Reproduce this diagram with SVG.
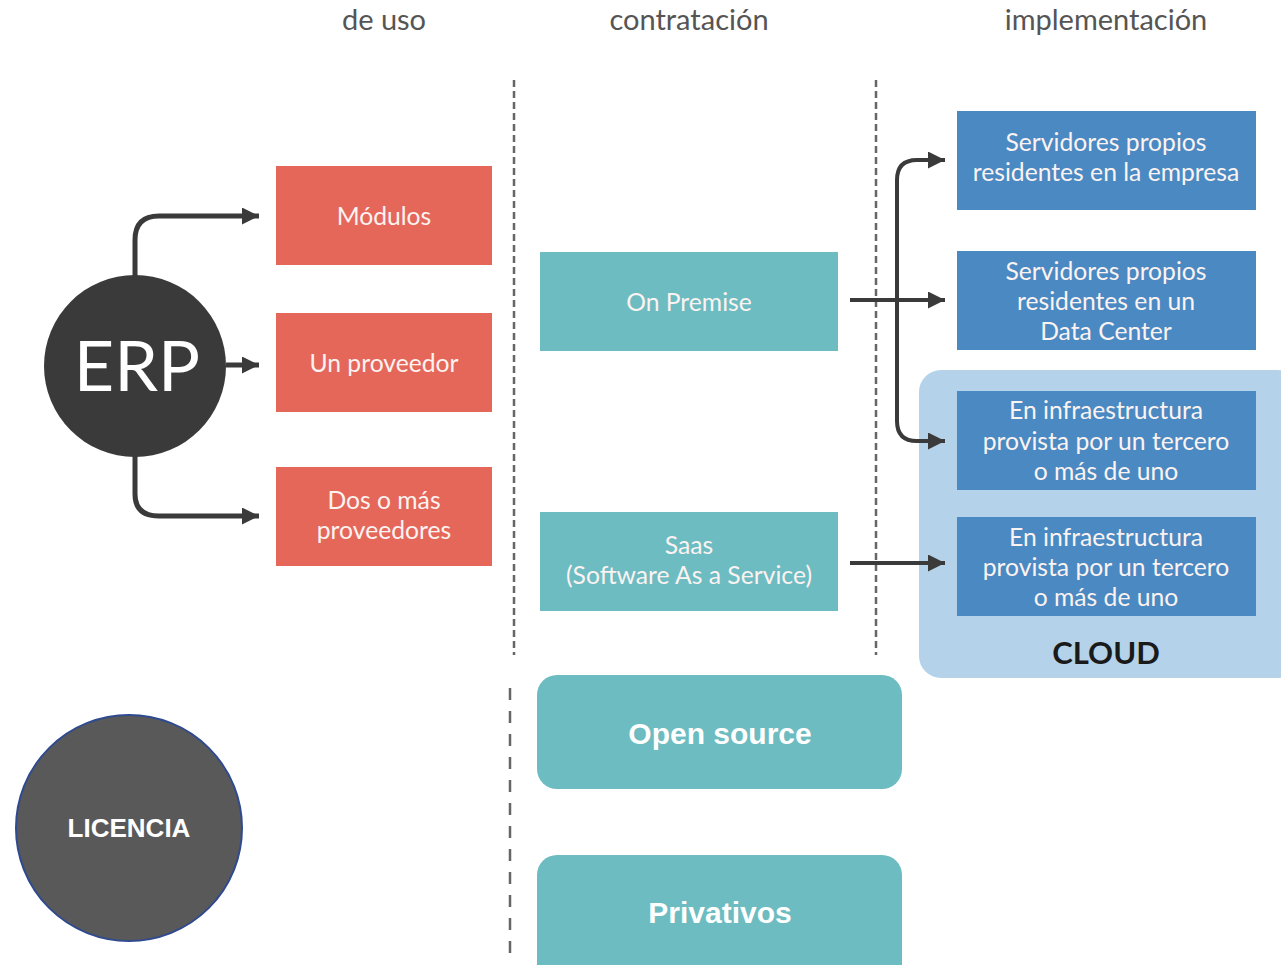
<svg xmlns="http://www.w3.org/2000/svg" width="1281" height="965" viewBox="0 0 1281 965">
<defs>
<style>
.hdr{font-family:Lato,"Open Sans","Liberation Sans",sans-serif;font-size:29px;fill:#555;text-anchor:middle}
.lbl{font-family:Lato,"Open Sans","Liberation Sans",sans-serif;font-size:24.7px;fill:#fbf3f1;text-anchor:middle}
.red{fill:#e5675a}
.teal{fill:#6dbcc1}
.blue{fill:#4b89c2}
.conn{fill:none;stroke:#3a3a3a;stroke-width:5}
.connr{fill:none;stroke:#3a3a3a;stroke-width:4}
.dash{stroke:#666;stroke-width:2.5;stroke-dasharray:7 4}
.bold{font-family:"Liberation Sans",Arial,sans-serif;font-weight:bold;fill:#fff;text-anchor:middle}
</style>
<marker id="ah" markerUnits="userSpaceOnUse" markerWidth="17" markerHeight="17" viewBox="0 0 17 17" refX="17" refY="8.5" orient="auto-start-reverse">
<path d="M0,0 L17,8.5 L0,17 z" fill="#3a3a3a"/>
</marker>
</defs>
<rect width="1281" height="965" fill="#fff"/>
<g id="headers">
<text class="hdr" x="384" y="30">de uso</text>
<text class="hdr" x="689" y="30">contratación</text>
<text class="hdr" x="1106" y="30">implementación</text>
</g>
<g id="dividers">
<line class="dash" x1="514" y1="80" x2="514" y2="655"/>
<line class="dash" x1="876" y1="80" x2="876" y2="655"/>
<line x1="510" y1="688" x2="510" y2="958" stroke="#666" stroke-width="2.5" stroke-dasharray="12 11"/>
</g>
<g id="cloud">
<rect x="919" y="370" width="380" height="308" rx="22" fill="#b4d3ea"/>
<text x="1106" y="664" font-family="Lato,'Open Sans','Liberation Sans',sans-serif" font-weight="bold" font-size="31" fill="#1a1a1a" text-anchor="middle">CLOUD</text>
</g>
<g id="connectors">
<path class="conn" d="M135,276 V240 Q135,216 159,216 H259" marker-end="url(#ah)"/>
<path class="conn" d="M226,365 H259" marker-end="url(#ah)"/>
<path class="conn" d="M135,456 V494 Q135,516 159,516 H259" marker-end="url(#ah)"/>
<path class="connr" d="M945,160 H917 Q897,160 897,180 V421 Q897,441 917,441 H945" marker-start="url(#ah)" marker-end="url(#ah)"/>
<path class="connr" d="M850,300 H945" marker-end="url(#ah)"/>
<path class="connr" d="M850,563 H945" marker-end="url(#ah)"/>
</g>
<g id="erp">
<circle cx="135" cy="366" r="91" fill="#3a3a3a"/>
<text x="137" y="391" font-family="Lato,'Open Sans','Liberation Sans',sans-serif" font-size="70" fill="#fff" text-anchor="middle">ERP</text>
</g>
<g id="modulos">
<rect class="red" x="276" y="166" width="216" height="99"/>
<text class="lbl" x="384" y="225">Módulos</text>
</g>
<g id="un-proveedor">
<rect class="red" x="276" y="313" width="216" height="99"/>
<text class="lbl" x="384" y="372">Un proveedor</text>
</g>
<g id="dos-proveedores">
<rect class="red" x="276" y="467" width="216" height="99"/>
<text class="lbl" x="384" y="509">Dos o más</text>
<text class="lbl" x="384" y="539">proveedores</text>
</g>
<g id="on-premise">
<rect class="teal" x="540" y="252" width="298" height="99"/>
<text class="lbl" x="689" y="311">On Premise</text>
</g>
<g id="saas">
<rect class="teal" x="540" y="512" width="298" height="99"/>
<text class="lbl" x="689" y="554">Saas</text>
<text class="lbl" x="689" y="584">(Software As a Service)</text>
</g>
<g id="servidores-empresa">
<rect class="blue" x="957" y="111" width="299" height="99"/>
<text class="lbl" x="1106" y="151">Servidores propios</text>
<text class="lbl" x="1106" y="181">residentes en la empresa</text>
</g>
<g id="servidores-datacenter">
<rect class="blue" x="957" y="251" width="299" height="99"/>
<text class="lbl" x="1106" y="280">Servidores propios</text>
<text class="lbl" x="1106" y="310">residentes en un</text>
<text class="lbl" x="1106" y="340">Data Center</text>
</g>
<g id="infra-1">
<rect class="blue" x="957" y="391" width="299" height="99"/>
<text class="lbl" x="1106" y="419">En infraestructura</text>
<text class="lbl" x="1106" y="450">provista por un tercero</text>
<text class="lbl" x="1106" y="480">o más de uno</text>
</g>
<g id="infra-2">
<rect class="blue" x="957" y="517" width="299" height="99"/>
<text class="lbl" x="1106" y="546">En infraestructura</text>
<text class="lbl" x="1106" y="576">provista por un tercero</text>
<text class="lbl" x="1106" y="606">o más de uno</text>
</g>
<g id="licencia">
<circle cx="129" cy="828" r="113" fill="#595959" stroke="#2f4a8e" stroke-width="2"/>
<text class="bold" x="129" y="837" font-size="26">LICENCIA</text>
</g>
<g id="open-source">
<rect class="teal" x="537" y="675" width="365" height="114" rx="20"/>
<text class="bold" x="720" y="744" font-size="30">Open source</text>
</g>
<g id="privativos">
<rect class="teal" x="537" y="855" width="365" height="130" rx="20"/>
<text class="bold" x="720" y="923" font-size="30">Privativos</text>
</g>
</svg>
